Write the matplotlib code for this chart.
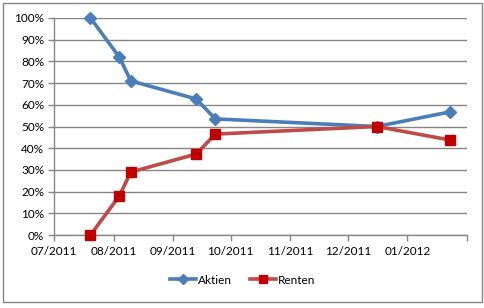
import matplotlib
matplotlib.use('Agg')
import matplotlib.pyplot as plt
import matplotlib.dates as mdates
from matplotlib.ticker import PercentFormatter, FixedLocator
from matplotlib.patches import Rectangle
import numpy as np
from datetime import date

# ── Data ───────────────────────────────────────────────────────────────────
dates = [date(2011, 7, 20), date(2011, 8, 4), date(2011, 8, 10), date(2011, 9, 13),
         date(2011, 9, 23), date(2011, 12, 16), date(2012, 1, 23)]
aktien = [1.00, 0.82, 0.71, 0.627, 0.535, 0.50, 0.567]
renten = [0.00, 0.18, 0.29, 0.373, 0.465, 0.50, 0.438]
tick_dates = [date(2011, m, 1) for m in range(7, 13)] + [date(2012, 1, 1), date(2012, 2, 1)]

BLUE = '#4A7EBB'
RED_LINE = '#BE4B48'
RED_MARK = '#C00000'
GRID = '#868686'

plt.rcParams['font.family'] = ['Lato', 'DejaVu Sans']

fig = plt.figure(figsize=(4.85, 3.08), dpi=100)
fig.patches.append(Rectangle((3 / 485, 1 - 302 / 308), 479 / 485, 299 / 308,
                             transform=fig.transFigure, fill=False,
                             edgecolor='#868686', linewidth=1.0))

ax = fig.add_axes([54 / 485, 1 - 235 / 308, 413 / 485, 217 / 308])

ax.plot(dates, aktien, color=BLUE, linewidth=2.6, marker='D', markersize=6.5,
        markerfacecolor=BLUE, markeredgecolor=BLUE, label='Aktien', zorder=3,
        clip_on=False)
ax.plot(dates, renten, color=RED_LINE, linewidth=2.6, marker='s', markersize=7,
        markerfacecolor=RED_MARK, markeredgecolor=RED_MARK, label='Renten', zorder=3,
        clip_on=False)

ax.set_ylim(0, 1)
ax.set_yticks(np.arange(0, 1.01, 0.1))
ax.yaxis.set_major_formatter(PercentFormatter(1.0, decimals=0))
ax.set_xlim(mdates.date2num(tick_dates[0]), mdates.date2num(tick_dates[-1]))
ax.xaxis.set_major_locator(FixedLocator(mdates.date2num(tick_dates)))
labels = [d.strftime('%m/%Y') for d in tick_dates[:-1]] + ['']
ax.set_xticklabels(labels)

ax.grid(axis='y', color=GRID, linewidth=1.0)
ax.set_axisbelow(True)
for s in ['top', 'right']:
    ax.spines[s].set_visible(False)
for s in ['left', 'bottom']:
    ax.spines[s].set_color(GRID)
    ax.spines[s].set_linewidth(1.0)
ax.tick_params(axis='both', direction='out', length=4, color=GRID, width=1.0,
               labelsize=8.5, colors='black')
ax.tick_params(axis='y', pad=3)
ax.tick_params(axis='x', pad=4)
for lab in ax.get_yticklabels() + ax.get_xticklabels():
    lab.set_color('black')

fig.legend(loc='center', bbox_to_anchor=(0.5, 1 - 280 / 308), ncol=2, frameon=False,
           fontsize=8.5, handlelength=2.2, columnspacing=1.5, handletextpad=0.2,
           markerscale=0.8)

fig.savefig('out.png', dpi=100)
